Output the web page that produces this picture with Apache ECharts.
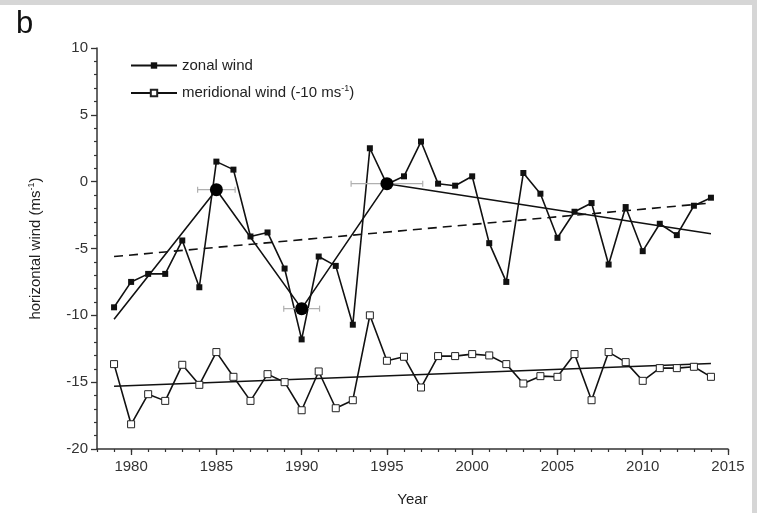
<!DOCTYPE html>
<html>
<head>
<meta charset="utf-8">
<script src="https://cdn.jsdelivr.net/npm/echarts@6/dist/echarts.min.js"></script>
<style>
  html, body { margin: 0; padding: 0; background: #fff; }
  #chart { position: absolute; left: 0; top: 0; width: 757px; height: 513px; background: #fff; }
  .edge { position: absolute; background: #d6d6d6; }
</style>
</head>
<body>
<div id="chart"></div>
<div class="edge" style="left:0;top:0;width:757px;height:5px;"></div>
<div class="edge" style="left:752px;top:0;width:5px;height:513px;"></div>
<script>
// Years of observation
const years = [1979,1980,1981,1982,1983,1984,1985,1986,1987,1988,1989,1990,1991,1992,1993,1994,1995,1996,
  1997,1998,1999,2000,2001,2002,2003,2004,2005,2006,2007,2008,2009,2010,2011,2012,2013,2014];

// Zonal wind (m/s)
const zonal = [-9.4,-7.5,-6.9,-6.9,-4.4,-7.9,1.5,0.9,-4.1,-3.8,-6.5,-11.8,-5.6,-6.3,-10.7,2.5,-0.2,0.4,
  3.0,-0.15,-0.3,0.4,-4.6,-7.5,0.65,-0.9,-4.2,-2.25,-1.6,-6.2,-1.9,-5.2,-3.15,-4.0,-1.8,-1.2];

// Meridional wind, shifted by -10 m/s
const meridional = [-13.65,-18.15,-15.9,-16.4,-13.7,-15.2,-12.75,-14.6,-16.4,-14.4,-15.0,-17.1,-14.2,-16.95,
  -16.35,-10.0,-13.4,-13.1,-15.4,-13.05,-13.05,-12.9,-13.0,-13.65,-15.1,-14.55,-14.6,-12.9,-16.35,-12.75,
  -13.5,-14.9,-13.95,-13.95,-13.85,-14.6];

// Piecewise (segmented) fit of zonal wind: [year, value]
const segmentFit = [[1979,-10.3],[1985,-0.6],[1990,-9.5],[1995,-0.15],[2014,-3.9]];
// Break points with their year uncertainty: [year, value, halfWidth]
const breakPoints = [[1985,-0.6,1.1],[1990,-9.5,1.05],[1995,-0.15,2.1]];
// Linear trends
const zonalTrend = [[1979,-5.6],[2014,-1.6]];
const meridionalTrend = [[1979,-15.3],[2014,-13.6]];

const yearTicks = [1980,1985,1990,1995,2000,2005,2010,2015];
const minorYears = [];
for (let y = 1978; y <= 2015; y++) minorYears.push(y);

const FONT = 'Liberation Sans, Arial, sans-serif';
const pair = (xs, ys) => xs.map((x, i) => [x, ys[i]]);

const chart = echarts.init(document.getElementById('chart'), null, { renderer: 'canvas' });

chart.setOption({
  animation: false,
  backgroundColor: '#fff',
  textStyle: { fontFamily: FONT, color: '#222' },
  title: {
    text: 'b', left: 11, top: 4,
    textStyle: { fontFamily: FONT, fontSize: 31, fontWeight: 'normal', color: '#111' }
  },
  grid: { left: 97, right: 29, top: 48, bottom: 64 },
  legend: {
    data: ['zonal wind', 'meridional wind'],
    orient: 'vertical', left: 125, top: 53, itemWidth: 46, itemHeight: 8, itemGap: 11,
    textStyle: { fontFamily: FONT, fontSize: 15, color: '#222',
      rich: {
        t: { fontFamily: FONT, fontSize: 15, color: '#222' },
        s: { fontFamily: FONT, fontSize: 9, color: '#222', padding: [0, 0, 9, 0] }
      }
    },
    formatter: name => name === 'meridional wind'
      ? '{t|meridional wind (-10 ms}{s|-1}{t|)}'
      : '{t|zonal wind}'
  },
  xAxis: [{
    type: 'value', min: 1978, max: 2015,
    name: 'Year', nameLocation: 'middle', nameGap: 43,
    nameTextStyle: { fontFamily: FONT, fontSize: 15, color: '#222' },
    axisLine: { show: true, onZero: false, lineStyle: { color: '#333', width: 1.5 } },
    axisTick: { show: true, customValues: yearTicks, length: 6, lineStyle: { color: '#333', width: 1.3 } },
    axisLabel: { customValues: yearTicks, formatter: v => String(v), fontFamily: FONT, fontSize: 15, color: '#333', margin: 10 },
    splitLine: { show: false }
  }, {
    type: 'value', min: 1978, max: 2015, position: 'bottom',
    axisLine: { show: false, onZero: false },
    axisTick: { show: true, customValues: minorYears, length: 3, lineStyle: { color: '#333', width: 1.2 } },
    axisLabel: { show: false },
    splitLine: { show: false }
  }],
  yAxis: {
    type: 'value', min: -20, max: 10, interval: 5,
    name: '{t|horizontal wind (ms}{s|-1}{t|)}', nameLocation: 'middle', nameGap: 52, nameRotate: 90,
    nameTextStyle: { fontFamily: FONT, fontSize: 15, color: '#222',
      rich: {
        t: { fontFamily: FONT, fontSize: 15, color: '#222' },
        s: { fontFamily: FONT, fontSize: 9, color: '#222', padding: [0, 0, 9, 0] }
      }
    },
    axisLine: { show: true, onZero: false, lineStyle: { color: '#333', width: 1.5 } },
    axisTick: { show: true, length: 6, lineStyle: { color: '#333', width: 1.3 } },
    minorTick: { show: true, splitNumber: 5, length: 3, lineStyle: { color: '#333', width: 1.2 } },
    axisLabel: { fontFamily: FONT, fontSize: 15, color: '#333', margin: 9 },
    splitLine: { show: false }
  },
  series: [
    {
      name: 'meridional trend', type: 'line', data: meridionalTrend, symbol: 'none',
      lineStyle: { color: '#111', width: 1.6 }, z: 2
    },
    {
      name: 'zonal trend', type: 'line', data: zonalTrend, symbol: 'none',
      lineStyle: { color: '#111', width: 1.6, type: [9, 6] }, z: 2
    },
    {
      name: 'segment fit', type: 'line', data: segmentFit, symbol: 'none',
      lineStyle: { color: '#111', width: 1.6 }, z: 2
    },
    {
      name: 'meridional wind', type: 'line', data: pair(years, meridional),
      symbol: 'rect', symbolSize: 7,
      itemStyle: { color: '#fff', borderColor: '#222', borderWidth: 1 },
      lineStyle: { color: '#111', width: 1.6 }, z: 3
    },
    {
      name: 'zonal wind', type: 'line', data: pair(years, zonal),
      symbol: 'rect', symbolSize: 6,
      itemStyle: { color: '#111', borderColor: '#111', borderWidth: 0 },
      lineStyle: { color: '#111', width: 1.6 }, z: 3
    },
    {
      name: 'break error', type: 'custom', data: breakPoints, z: 4,
      renderItem: (params, api) => {
        const x = api.value(0), y = api.value(1), h = api.value(2);
        const a = api.coord([x - h, y]), b = api.coord([x + h, y]);
        const cap = 3;
        const style = { stroke: '#b0b0b0', lineWidth: 1.2 };
        return {
          type: 'group',
          children: [
            { type: 'line', shape: { x1: a[0], y1: a[1], x2: b[0], y2: b[1] }, style },
            { type: 'line', shape: { x1: a[0], y1: a[1] - cap, x2: a[0], y2: a[1] + cap }, style },
            { type: 'line', shape: { x1: b[0], y1: b[1] - cap, x2: b[0], y2: b[1] + cap }, style }
          ]
        };
      }
    },
    {
      name: 'break points', type: 'scatter', data: breakPoints.map(p => [p[0], p[1]]),
      symbol: 'circle', symbolSize: 13, itemStyle: { color: '#000', opacity: 1 }, z: 5
    }
  ]
});
</script>
</body>
</html>
